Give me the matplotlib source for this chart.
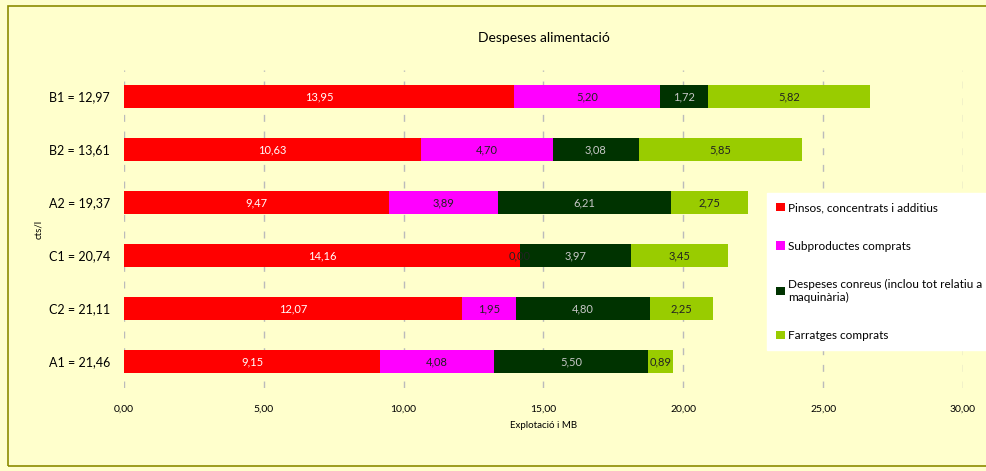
import matplotlib.pyplot as plt
import matplotlib.patches as mpatches
import numpy as np

plt.rcParams['font.family'] = ['Lato', 'DejaVu Sans']

# Dades
grups = ["B1 = 12,97", "B2 = 13,61", "A2 = 19,37", "C1 = 20,74", "C2 = 21,11", "A1 = 21,46"]
pinsos = [13.95, 10.63, 9.47, 14.16, 12.07, 9.15]
subproductes = [5.20, 4.70, 3.89, 0.00, 1.95, 4.08]
conreus = [1.72, 3.08, 6.21, 3.97, 4.80, 5.50]
farratges = [5.82, 5.85, 2.75, 3.45, 2.25, 0.89]

series = [
    ("Pinsos, concentrats i additius", pinsos, "#FF0000", "white"),
    ("Subproductes comprats", subproductes, "#FF00FF", "#222222"),
    ("Despeses conreus (inclou tot relatiu a\nmaquinària)", conreus, "#003300", "#C8C8C8"),
    ("Farratges comprats", farratges, "#99CC00", "#222222"),
]

BG = "#FFFFCC"

fig = plt.figure(figsize=(9.87, 4.71), dpi=100, facecolor=BG)
ax = fig.add_axes([124/987, 1 - 388/471, 839/987, 318/471])
ax.set_facecolor(BG)

# Vora exterior
fig.patches.append(mpatches.Rectangle((8/987, 5/471), 1.2, 460/471, transform=fig.transFigure,
                                      fill=False, edgecolor="#8C8C00", linewidth=1.2))

y = np.arange(len(grups))
left = np.zeros(len(grups))
for nom, vals, color, tcolor in series:
    bars = ax.barh(y, vals, left=left, height=0.42, color=color, label=nom, zorder=2)
    ax.bar_label(bars, labels=[f"{v:.2f}".replace(".", ",") for v in vals],
                 label_type="center", color=tcolor, fontsize=8, zorder=3)
    left += np.array(vals)

ax.set_ylim(5.5, -0.5)
ax.set_xlim(0, 30)
ax.set_xticks(np.arange(0, 31, 5))
ax.set_xticklabels([f"{v:.2f}".replace(".", ",") for v in np.arange(0, 31, 5)], fontsize=7.5)
ax.set_yticks(y)
ax.set_yticklabels(grups, fontsize=9)
ax.tick_params(axis="both", length=0)
ax.tick_params(axis="x", pad=12)
ax.tick_params(axis="y", pad=10)
for s in ax.spines.values():
    s.set_visible(False)
ax.grid(axis="x", color="#BBBBBB", linestyle=(0, (5, 7)), linewidth=1, zorder=0)

ax.set_xlabel("Explotació i MB", fontsize=7, labelpad=5)
ax.set_ylabel("cts/l", fontsize=7, labelpad=4)
ax.set_title("Despeses alimentació", fontsize=10, pad=20)

leg = fig.legend(loc="upper left", bbox_to_anchor=(767/987, 1 - 193/471), fontsize=8.5,
                 frameon=True, facecolor="white", edgecolor="white", fancybox=False,
                 handlelength=0.7, handleheight=0.7, handletextpad=0.3,
                 labelspacing=2.3, borderpad=0.8, borderaxespad=0)
leg.get_frame().set_alpha(1)

plt.savefig("out.png", dpi=100, facecolor=BG)
